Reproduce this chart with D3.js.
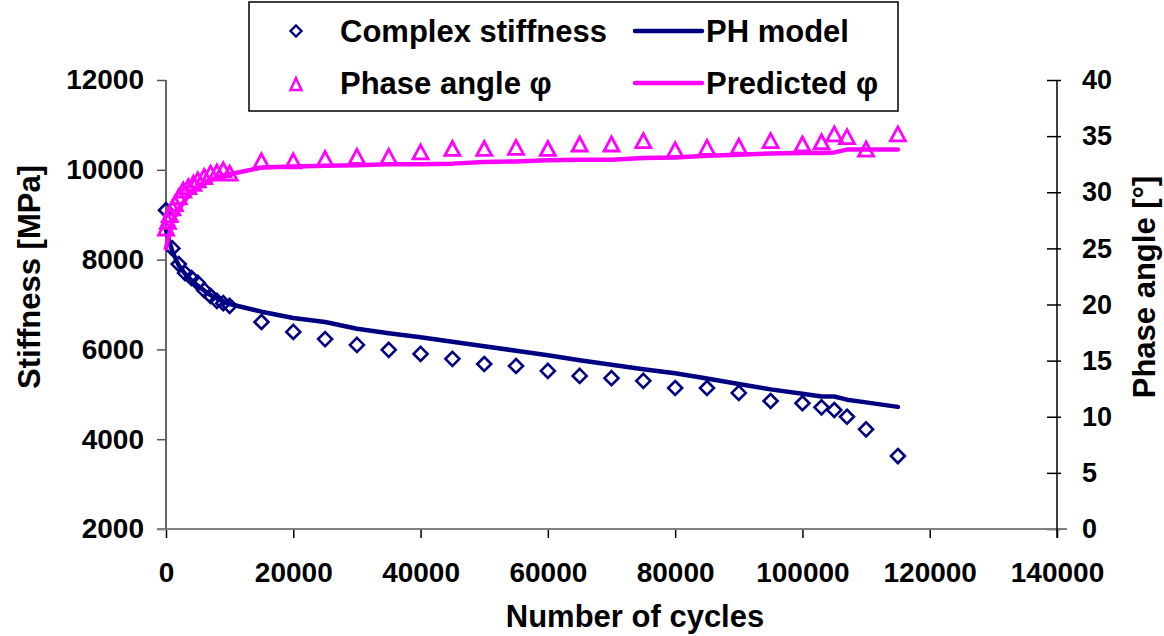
<!DOCTYPE html>
<html>
<head>
<meta charset="utf-8">
<script src="https://cdn.jsdelivr.net/npm/d3@7"></script>
<style>
  html, body { margin: 0; padding: 0; background: #fff; }
  svg { display: block; font-family: "Liberation Sans", Arial, sans-serif; font-weight: bold; }
</style>
</head>
<body>
<svg id="chart" width="1164" height="636"></svg>
<script>
// Measured complex stiffness (MPa) against number of load cycles
const stiffCycles = [0, 1000, 2000, 3000, 4000, 5000, 6000, 7000, 8000, 9000, 10000,
  15000, 20000, 25000, 30000, 35000, 40000, 45000, 50000, 55000, 60000, 65000, 70000,
  75000, 80000, 85000, 90000, 95000, 100000, 103000, 105000, 107000, 110000, 115000];
const stiffness = [9100, 8250, 7900, 7700, 7590, 7480, 7320, 7190, 7080, 7030, 6970,
  6610, 6390, 6230, 6100, 5990, 5900, 5790, 5675, 5630, 5520, 5410, 5360,
  5300, 5140, 5140, 5030, 4850, 4800, 4710, 4650, 4500, 4220, 3625];

// PH model fit of the stiffness, evaluated at the same cycle counts
const phModel = [8650, 8180, 7870, 7680, 7540, 7420, 7310, 7210, 7130, 7070, 7010,
  6840, 6700, 6610, 6460, 6360, 6270, 6170, 6070, 5970, 5870, 5760, 5660,
  5560, 5470, 5350, 5230, 5110, 5010, 4950, 4950, 4880, 4820, 4720];

// Measured phase angle (degrees)
const phaseCycles = [0, 300, 600, 1000, 1400, 2000, 2700, 3500, 4300, 5000, 6000, 7000,
  8000, 9000, 10000, 15000, 20000, 25000, 30000, 35000, 40000, 45000, 50000, 55000,
  60000, 65000, 70000, 75000, 80000, 85000, 90000, 95000, 100000, 103000, 105000,
  107000, 110000, 115000];
const phaseAngle = [26.8, 27.4, 28.0, 28.6, 29.0, 29.6, 30.2, 30.5, 30.8, 31.1, 31.4, 31.7,
  31.8, 32.0, 31.7, 32.8, 32.8, 33.0, 33.2, 33.2, 33.6, 33.9, 33.9, 34.0,
  33.9, 34.3, 34.3, 34.6, 33.8, 34.0, 34.1, 34.6, 34.3, 34.5, 35.2,
  34.95, 33.85, 35.2];

// Predicted phase angle at the stiffness cycle counts
const predictedPhase = [25.0, 27.4, 28.5, 29.3, 30.0, 30.4, 30.8, 31.1, 31.3, 31.5, 31.6,
  32.2, 32.3, 32.35, 32.4, 32.5, 32.5, 32.55, 32.7, 32.75, 32.85, 32.9, 32.9,
  33.05, 33.1, 33.25, 33.35, 33.45, 33.5, 33.5, 33.55, 33.8, 33.8, 33.8];

// Axis ticks
const xTicks = [0, 20000, 40000, 60000, 80000, 100000, 120000, 140000];
const yTicks = [2000, 4000, 6000, 8000, 10000, 12000];
const phaseTicks = [0, 5, 10, 15, 20, 25, 30, 35, 40];

const navy = "#000080";
const magenta = "#ff00ff";

const plot = { left: 166, right: 1057, top: 80, bottom: 529 };

const x = d3.scaleLinear().domain([0, 140000]).range([plot.left, plot.right]);
const y = d3.scaleLinear().domain([2000, 12000]).range([plot.bottom, plot.top]);
const yPhase = d3.scaleLinear().domain([0, 40]).range([plot.bottom, plot.top]);

const svg = d3.select("#chart");

// ---- axes ----
const xAxis = svg.append("g")
  .attr("transform", `translate(0,${plot.bottom})`)
  .call(d3.axisBottom(x).tickValues(xTicks).tickFormat(d3.format("d"))
    .tickSize(9).tickSizeOuter(0).tickPadding(24));
xAxis.select(".domain").remove();
xAxis.selectAll(".tick line").attr("stroke", "#000").attr("stroke-width", 1.5);
xAxis.selectAll("text").attr("font-size", 28).attr("fill", "#000");

const yAxis = svg.append("g")
  .attr("transform", `translate(${plot.left},0)`)
  .call(d3.axisLeft(y).tickValues(yTicks).tickFormat(d3.format("d"))
    .tickSize(9).tickSizeOuter(0).tickPadding(13));
yAxis.select(".domain").remove();
yAxis.selectAll(".tick line").attr("stroke", "#555").attr("stroke-width", 1.5);
yAxis.selectAll("text").attr("font-size", 28).attr("fill", "#000");

const rAxis = svg.append("g")
  .attr("transform", `translate(${plot.right},0)`)
  .call(d3.axisRight(yPhase).tickValues(phaseTicks)
    .tickSize(4).tickSizeOuter(0).tickPadding(21));
rAxis.select(".domain").remove();
rAxis.selectAll(".tick line").attr("x1", -10).attr("x2", 4)
  .attr("stroke", "#000").attr("stroke-width", 1.5);
rAxis.selectAll("text").attr("font-size", 27).attr("fill", "#000");

// axis lines
svg.append("line")
  .attr("x1", plot.left - 9).attr("x2", plot.right + 10)
  .attr("y1", plot.bottom).attr("y2", plot.bottom)
  .attr("stroke", "#808080").attr("stroke-width", 2);
svg.append("line")
  .attr("x1", plot.left).attr("x2", plot.left)
  .attr("y1", plot.top).attr("y2", plot.bottom)
  .attr("stroke", "#666").attr("stroke-width", 2);
svg.append("line")
  .attr("x1", plot.right).attr("x2", plot.right)
  .attr("y1", plot.top).attr("y2", plot.bottom + 9)
  .attr("stroke", "#000").attr("stroke-width", 1.5);

// axis titles
svg.append("text")
  .attr("x", 635).attr("y", 627)
  .attr("text-anchor", "middle").attr("font-size", 31)
  .text("Number of cycles");
svg.append("text")
  .attr("transform", `translate(40,277) rotate(-90)`)
  .attr("text-anchor", "middle").attr("font-size", 31)
  .text("Stiffness [MPa]");
svg.append("text")
  .attr("transform", `translate(1155,287) rotate(-90)`)
  .attr("text-anchor", "middle").attr("font-size", 31)
  .text("Phase angle [°]");

// ---- marker shapes ----
function diamondPath(s) {
  const h = s / 2;
  return `M0,${-h}L${h},0L0,${h}L${-h},0Z`;
}
function trianglePath(w, hgt) {
  const a = w / 2, b = hgt / 2;
  return `M0,${-b}L${a},${b}L${-a},${b}Z`;
}

const stiffData = stiffCycles.map((c, i) => ({ c, v: stiffness[i] }));
const phData = stiffCycles.map((c, i) => ({ c, v: phModel[i] }));
const phaseData = phaseCycles.map((c, i) => ({ c, v: phaseAngle[i] }));
const predData = stiffCycles.map((c, i) => ({ c, v: predictedPhase[i] }));

// Complex stiffness markers
svg.append("g").selectAll("path")
  .data(stiffData).join("path")
  .attr("transform", d => `translate(${x(d.c)},${y(d.v)})`)
  .attr("d", diamondPath(14))
  .attr("fill", "none").attr("stroke", navy).attr("stroke-width", 2.6);

// PH model line
svg.append("path")
  .datum(phData)
  .attr("d", d3.line().x(d => x(d.c)).y(d => y(d.v)))
  .attr("fill", "none").attr("stroke", navy).attr("stroke-width", 4.5)
  .attr("stroke-linejoin", "round").attr("stroke-linecap", "round");

// Phase angle markers
svg.append("g").selectAll("path")
  .data(phaseData).join("path")
  .attr("transform", d => `translate(${x(d.c)},${yPhase(d.v)})`)
  .attr("d", trianglePath(15, 14))
  .attr("fill", "none").attr("stroke", magenta).attr("stroke-width", 2.8);

// Predicted phase angle line
svg.append("path")
  .datum(predData)
  .attr("d", d3.line().x(d => x(d.c)).y(d => yPhase(d.v)))
  .attr("fill", "none").attr("stroke", magenta).attr("stroke-width", 4.5)
  .attr("stroke-linejoin", "round").attr("stroke-linecap", "round");

// ---- legend ----
const legend = svg.append("g");
legend.append("rect")
  .attr("x", 249).attr("y", 2).attr("width", 649).attr("height", 109)
  .attr("fill", "#fff").attr("stroke", "#000").attr("stroke-width", 1.5);

const legendItems = [
  { label: "Complex stiffness", kind: "diamond", color: navy, row: 0 },
  { label: "PH model", kind: "line", color: navy, row: 0 },
  { label: "Phase angle φ", kind: "triangle", color: magenta, row: 1 },
  { label: "Predicted φ", kind: "line", color: magenta, row: 1 }
];
const rowY = [31, 83];
legendItems.forEach(it => {
  const cy = rowY[it.row];
  if (it.kind === "diamond") {
    legend.append("path").attr("transform", `translate(296,${cy})`)
      .attr("d", diamondPath(11)).attr("fill", "none")
      .attr("stroke", it.color).attr("stroke-width", 2.4);
    legend.append("text").attr("x", 340).attr("y", cy + 11)
      .attr("font-size", 31).text(it.label);
  } else if (it.kind === "triangle") {
    legend.append("path").attr("transform", `translate(296,${cy + 1})`)
      .attr("d", trianglePath(11, 12)).attr("fill", "none")
      .attr("stroke", it.color).attr("stroke-width", 2.4);
    legend.append("text").attr("x", 340).attr("y", cy + 11)
      .attr("font-size", 31).text(it.label);
  } else {
    legend.append("line").attr("x1", 635).attr("x2", 702)
      .attr("y1", cy).attr("y2", cy)
      .attr("stroke", it.color).attr("stroke-width", 4.5).attr("stroke-linecap", "round");
    legend.append("text").attr("x", 706).attr("y", cy + 11)
      .attr("font-size", 31).text(it.label);
  }
});
</script>
</body>
</html>
